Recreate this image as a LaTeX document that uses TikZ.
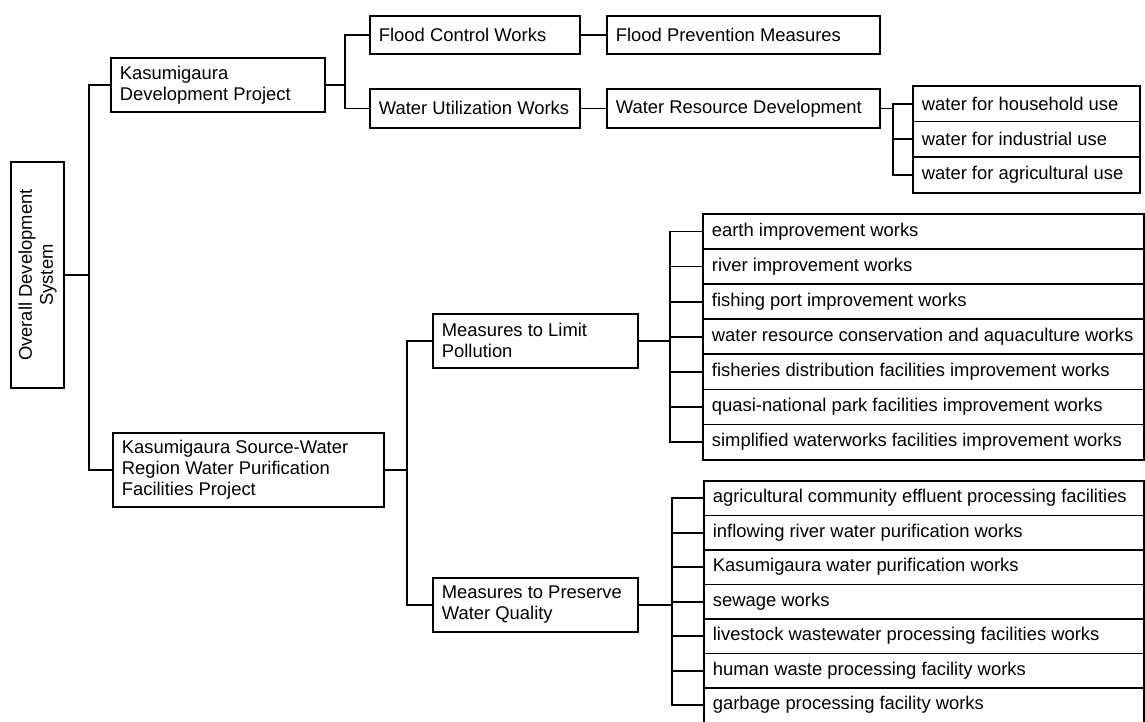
\documentclass[tikz,border=0pt]{standalone}
\usepackage{fontspec}
\setmainfont{Liberation Sans}
\usetikzlibrary{calc}

\tikzset{
  box/.style={draw, line width=1.8pt, anchor=north west, align=flush left,
    inner xsep=9pt, inner ysep=2pt, font=\fontsize{18.4}{21}\selectfont},
  row/.style={box},
  link/.style={line width=1.8pt}
}

\begin{document}
\begin{tikzpicture}[x=1pt, y=-1pt]
  \useasboundingbox (0,0) rectangle (1145,721);
  % root
  \node[box, rotate=90, anchor=center, align=center, minimum width=226pt, minimum height=53pt] (ods) at (37.5,275) {Overall Development\\System};
  % first branch
  \node[box, text width=196pt, minimum height=54pt] (kdp) at (110,57) {Kasumigaura\\Development Project};
  \node[box, text width=192pt, minimum height=38pt] (fcw) at (369,15) {Flood Control Works};
  \node[box, text width=192pt, minimum height=39pt] (wuw) at (369,88) {Water Utilization Works};
  \node[box, text width=255pt, minimum height=38pt] (fpm) at (606,15) {Flood Prevention Measures};
  \node[box, text width=255pt, minimum height=39pt] (wrd) at (606,88) {Water Resource Development};
  \foreach \t [count=\i] in {water for household use, water for industrial use, water for agricultural use}
    \node[row, text width=209pt, minimum height=35.6pt] (u\i) at (912,{85+(\i-1)*35.6}) {\t};
  % second branch
  \node[box, text width=253pt, minimum height=74pt] (ksw) at (112,432) {Kasumigaura Source-Water\\Region Water Purification\\Facilities Project};
  \node[box, text width=187pt, minimum height=54pt] (mlp) at (432,313) {Measures to Limit\\Pollution};
  \node[box, text width=187pt, minimum height=54pt] (mpq) at (432,577) {Measures to Preserve\\Water Quality};
  \foreach \t [count=\i] in {earth improvement works, river improvement works, fishing port improvement works, water resource conservation and aquaculture works, fisheries distribution facilities improvement works, quasi-national park facilities improvement works, simplified waterworks facilities improvement works}
    \node[row, text width=423pt, minimum height=35.1pt] (a\i) at (702,{213+(\i-1)*35.1}) {\t};
  \foreach \t [count=\i] in {agricultural community effluent processing facilities, inflowing river water purification works, Kasumigaura water purification works, sewage works, livestock wastewater processing facilities works, human waste processing facility works, garbage processing facility works}
    \node[row, text width=422pt, minimum height=34.5pt] (b\i) at (703,{480+(\i-1)*34.5}) {\t};

  % connectors
  \draw[link] (ods.south) -- ++(24,0) coordinate (j0);
  \draw[link] (kdp.west) -| (j0) |- (ksw.west);
  \draw[link] (kdp.east) -- ++(19,0) coordinate (j1);
  \draw[link] (fcw.west) -| (j1) |- (wuw.west);
  \draw[link] (fcw) -- (fpm);
  \draw[link] (wuw) -- (wrd);
  \draw[link] (wrd.east) -- ++(12,0) coordinate (j2);
  \draw[link] (u1.west) -| (j2) |- (u3.west);
  \draw[link] (j2 |- u2.west) -- (u2.west);
  \draw[link] (ksw.east) -- ++(22,0) coordinate (j3);
  \draw[link] (mlp.west) -| (j3) |- (mpq.west);
  \draw[link] (mlp.east) -- ++(31,0) coordinate (j4);
  \draw[link] (a1.west) -| (j4) |- (a7.west);
  \foreach \i in {2,...,6}
    \draw[link] (j4 |- a\i.west) -- (a\i.west);
  \draw[link] (mpq.east) -- ++(33,0) coordinate (j5);
  \draw[link] (b1.west) -| (j5) |- (b7.west);
  \foreach \i in {2,...,6}
    \draw[link] (j5 |- b\i.west) -- (b\i.west);
\end{tikzpicture}
\end{document}
